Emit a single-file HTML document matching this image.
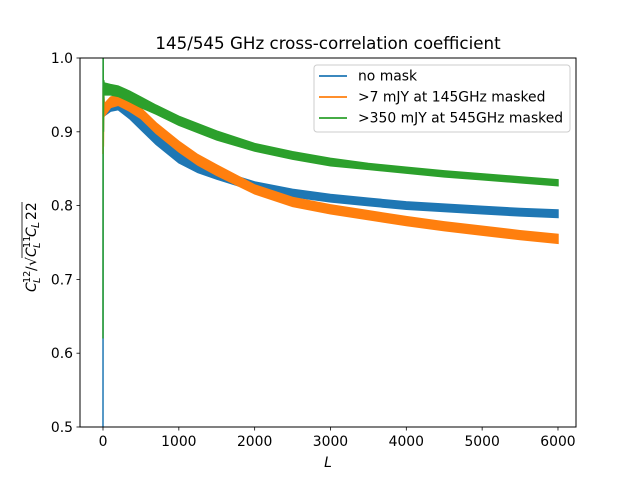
<!DOCTYPE html>
<html><head><meta charset="utf-8"><style>
body{margin:0;background:#fff}
svg text{font-family:"DejaVu Sans","Liberation Sans",sans-serif}
</style></head><body>
<svg id="c" width="640" height="480" xmlns="http://www.w3.org/2000/svg">
<rect width="640" height="480" fill="#fff"/>
<text x="328" y="49" font-size="16.7" text-anchor="middle">145/545 GHz cross-correlation coefficient</text>
<g id="plot"></g>
<g id="axes"></g>
<rect x="80" y="58" width="496" height="369" fill="none" stroke="#000" stroke-width="1"/>
<text x="328" y="467" font-size="13.9" text-anchor="middle" font-style="italic">L</text>
<g transform="translate(36,242) rotate(-90)">
<text x="-50" y="0" font-size="13.9" font-style="italic">C</text>
<text x="-41" y="-6" font-size="9.7">12</text>
<text x="-41" y="4" font-size="9.7" font-style="italic">L</text>
<text x="-29" y="0" font-size="13.9">/</text>
<text x="-24" y="0" font-size="13.9">√</text>
<text x="-15" y="0" font-size="13.9" font-style="italic">C</text>
<text x="-6" y="-6" font-size="9.7">11</text>
<text x="-6" y="4" font-size="9.7" font-style="italic">L</text>
<text x="5" y="0" font-size="13.9" font-style="italic">C</text>
<text x="14" y="3" font-size="11" font-style="italic">L</text>
<text x="22" y="0" font-size="13.9">22</text>
<line x1="-16" y1="-14" x2="40" y2="-14" stroke="#000" stroke-width="0.8"/>
</g>
<g>
<rect x="314" y="65" width="256" height="67" rx="3" fill="#fff" fill-opacity="0.8" stroke="#ccc"/>
<line x1="319" y1="76" x2="347" y2="76" stroke="#1f77b4" stroke-width="1.8"/>
<text x="358" y="80.5" font-size="13.9">no mask</text>
<line x1="319" y1="97" x2="347" y2="97" stroke="#ff7f0e" stroke-width="1.8"/>
<text x="358" y="101.5" font-size="13.9">&gt;7 mJY at 145GHz masked</text>
<line x1="319" y1="118" x2="347" y2="118" stroke="#2ca02c" stroke-width="1.8"/>
<text x="358" y="122.5" font-size="13.9">&gt;350 mJY at 545GHz masked</text>
</g>
</svg>
<script>
const xTicks=[0,1000,2000,3000,4000,5000,6000];
const yTicks=[0.5,0.6,0.7,0.8,0.9,1.0];
const Ls=[20,100,200,350,500,700,1000,1250,1500,2000,2500,3000,3500,4000,4500,5000,5500,6000];
const blueMean=[0.93,0.935,0.937,0.925,0.91,0.89,0.865,0.852,0.842,0.826,0.817,0.81,0.805,0.8,0.797,0.794,0.791,0.789];
const orangeMean=[0.93,0.94,0.943,0.935,0.925,0.905,0.88,0.862,0.848,0.822,0.805,0.795,0.787,0.779,0.772,0.766,0.76,0.755];
const greenMean=[0.958,0.957,0.955,0.948,0.94,0.93,0.915,0.905,0.895,0.879,0.868,0.859,0.853,0.848,0.843,0.839,0.835,0.831];
const blueNoise=[0.008,0.007,0.007,0.007,0.007,0.007,0.007,0.007,0.006,0.006,0.005,0.005,0.005,0.005,0.005,0.005,0.005,0.005];
const orangeNoise=[0.008,0.007,0.007,0.007,0.007,0.007,0.007,0.007,0.007,0.006,0.006,0.006,0.006,0.006,0.006,0.006,0.006,0.006];
const greenNoise=[0.008,0.007,0.007,0.007,0.007,0.006,0.006,0.006,0.006,0.005,0.005,0.005,0.004,0.004,0.004,0.004,0.004,0.004];
const spikeL=[0,2,5,10,20];
const blueSpike=[0.5,1.0,0.9,0.95,0.93];
const orangeSpike=[0.87,0.96,0.88,0.95,0.93];
const greenSpike=[0.62,1.0,0.9,0.97,0.958];
const X=v=>103+(v/1000)*75.83;
const Y=v=>427-(v-0.5)*738;
const NS="http://www.w3.org/2000/svg";
const plot=document.getElementById('plot'),axes=document.getElementById('axes');
function mk(t,a,p){const e=document.createElementNS(NS,t);for(const k in a)e.setAttribute(k,a[k]);p.appendChild(e);return e;}
function series(name,color,mean,noise,spike){
  let up=Ls.map((l,i)=>X(l)+','+Y(mean[i]+noise[i]));
  let dn=Ls.map((l,i)=>X(l)+','+Y(mean[i]-noise[i])).reverse();
  const b=mk('polygon',{points:up.concat(dn).join(' '),fill:color,stroke:color,'stroke-width':1.5},plot);
  
  
  const s=mk('polyline',{points:spikeL.map((l,i)=>X(l)+','+Y(spike[i])).join(' '),fill:'none',stroke:color,'stroke-width':1.5},plot);
  
  
}
series('no-mask-series','#1f77b4',blueMean,blueNoise,blueSpike);
series('mask-145-series','#ff7f0e',orangeMean,orangeNoise,orangeSpike);
series('mask-545-series','#2ca02c',greenMean,greenNoise,greenSpike);
xTicks.forEach(v=>{
  const l=mk('line',{x1:X(v),x2:X(v),y1:427,y2:430.5,stroke:'#000','stroke-width':0.8},axes);
  
  
  const t=mk('text',{x:X(v),y:446,'font-size':13.9,'text-anchor':'middle'},axes);t.textContent=v;
  
  
});
yTicks.forEach(v=>{
  const l=mk('line',{x1:76.5,x2:80,y1:Y(v),y2:Y(v),stroke:'#000','stroke-width':0.8},axes);
  
  
  const t=mk('text',{x:73,y:Y(v)+5,'font-size':13.9,'text-anchor':'end'},axes);t.textContent=v.toFixed(1);
  
  
});
</script>
</body></html>
